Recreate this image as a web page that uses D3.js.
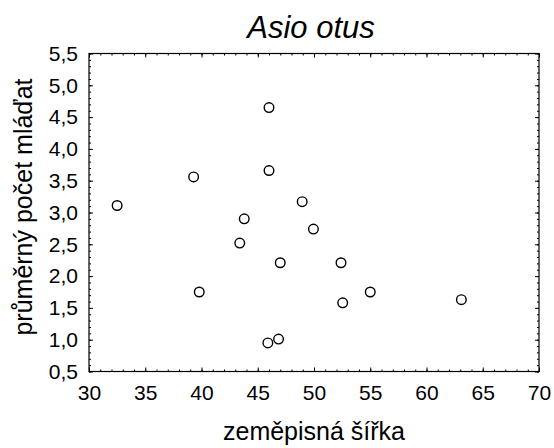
<!DOCTYPE html>
<html>
<head>
<meta charset="utf-8">
<script src="https://cdn.jsdelivr.net/npm/d3@7"></script>
<style>
  html, body { margin: 0; padding: 0; background: #fff; }
  svg { display: block; font-family: "Liberation Sans", Arial, sans-serif; }
</style>
</head>
<body>
<svg id="chart" width="554" height="448"></svg>
<script>
// Latitude (x) and mean brood size (y) for Asio otus populations
const latitude = [32.5, 39.3, 39.8, 43.4, 43.8, 46.0, 46.0, 45.9, 46.85, 47.0, 48.95, 49.95, 52.4, 52.55, 55.0, 63.1];
const broodSize = [3.11, 3.56, 1.75, 2.52, 2.90, 4.65, 3.66, 0.95, 1.01, 2.21, 3.17, 2.74, 2.21, 1.58, 1.75, 1.63];

const xTicks = [30, 35, 40, 45, 50, 55, 60, 65, 70];
const yTicks = [0.5, 1.0, 1.5, 2.0, 2.5, 3.0, 3.5, 4.0, 4.5, 5.0, 5.5];
const xMinor = d3.range(30, 70.001, 1);
const yMinor = d3.range(0.5, 5.5001, 0.1);

const titleText = "Asio otus";
const xLabel = "zeměpisná šířka";
const yLabel = "průměrný počet mláďat";

const svg = d3.select("#chart");
const plotL = 89, plotR = 539, plotT = 53.5, plotB = 371.5;

const x = d3.scaleLinear().domain([30, 70]).range([plotL, plotR]);
const y = d3.scaleLinear().domain([0.5, 5.5]).range([plotB, plotT]);
const fmt = d => d3.format(".1f")(d).replace(".", ",");

// minor ticks on all four sides, pointing inward
function minorAxis(axis, tx, ty) {
  svg.append("g").attr("transform", `translate(${tx},${ty})`)
    .call(axis.tickSize(-2).tickFormat(""))
    .call(s => s.select(".domain").remove());
}
minorAxis(d3.axisBottom(x).tickValues(xMinor), 0, plotB);
minorAxis(d3.axisTop(x).tickValues(xMinor), 0, plotT);
minorAxis(d3.axisLeft(y).tickValues(yMinor), plotL, 0);
minorAxis(d3.axisRight(y).tickValues(yMinor), plotR, 0);

// major ticks
const xAxis = svg.append("g").attr("transform", `translate(0,${plotB})`)
  .call(d3.axisBottom(x).tickValues(xTicks).tickSize(-4).tickPadding(14).tickFormat(d3.format("d")));
const yAxis = svg.append("g").attr("transform", `translate(${plotL},0)`)
  .call(d3.axisLeft(y).tickValues(yTicks).tickSize(-4).tickPadding(11).tickFormat(fmt));
svg.append("g").attr("transform", `translate(0,${plotT})`)
  .call(d3.axisTop(x).tickValues(xTicks).tickSize(-4).tickFormat(""));
svg.append("g").attr("transform", `translate(${plotR},0)`)
  .call(d3.axisRight(y).tickValues(yTicks).tickSize(-4).tickFormat(""));

svg.selectAll(".domain").remove();
svg.selectAll(".tick line").attr("stroke", "#000");
svg.selectAll(".tick text")
  .attr("fill", "#000")
  .attr("font-family", "'Liberation Sans', Arial, sans-serif")
  .attr("font-size", 21);
xAxis.selectAll(".tick text").attr("dy", "0.71em");

// plot frame
svg.append("rect")
  .attr("x", plotL).attr("y", plotT)
  .attr("width", plotR - plotL).attr("height", plotB - plotT)
  .attr("fill", "none").attr("stroke", "#000").attr("stroke-width", 1.2);

// data points
svg.append("g").selectAll("circle")
  .data(latitude.map((d, i) => [d, broodSize[i]]))
  .join("circle")
  .attr("cx", d => x(d[0]))
  .attr("cy", d => y(d[1]))
  .attr("r", 4.8)
  .attr("fill", "none")
  .attr("stroke", "#000")
  .attr("stroke-width", 1.4);

// title and axis labels
svg.append("text")
  .attr("x", 311).attr("y", 38)
  .attr("text-anchor", "middle")
  .attr("font-size", 31).attr("font-style", "italic")
  .text(titleText);

svg.append("text")
  .attr("x", 314).attr("y", 440)
  .attr("text-anchor", "middle")
  .attr("font-size", 25)
  .text(xLabel);

svg.append("text")
  .attr("transform", "translate(32,207) rotate(-90)")
  .attr("text-anchor", "middle")
  .attr("font-size", 25)
  .text(yLabel);
</script>
</body>
</html>
